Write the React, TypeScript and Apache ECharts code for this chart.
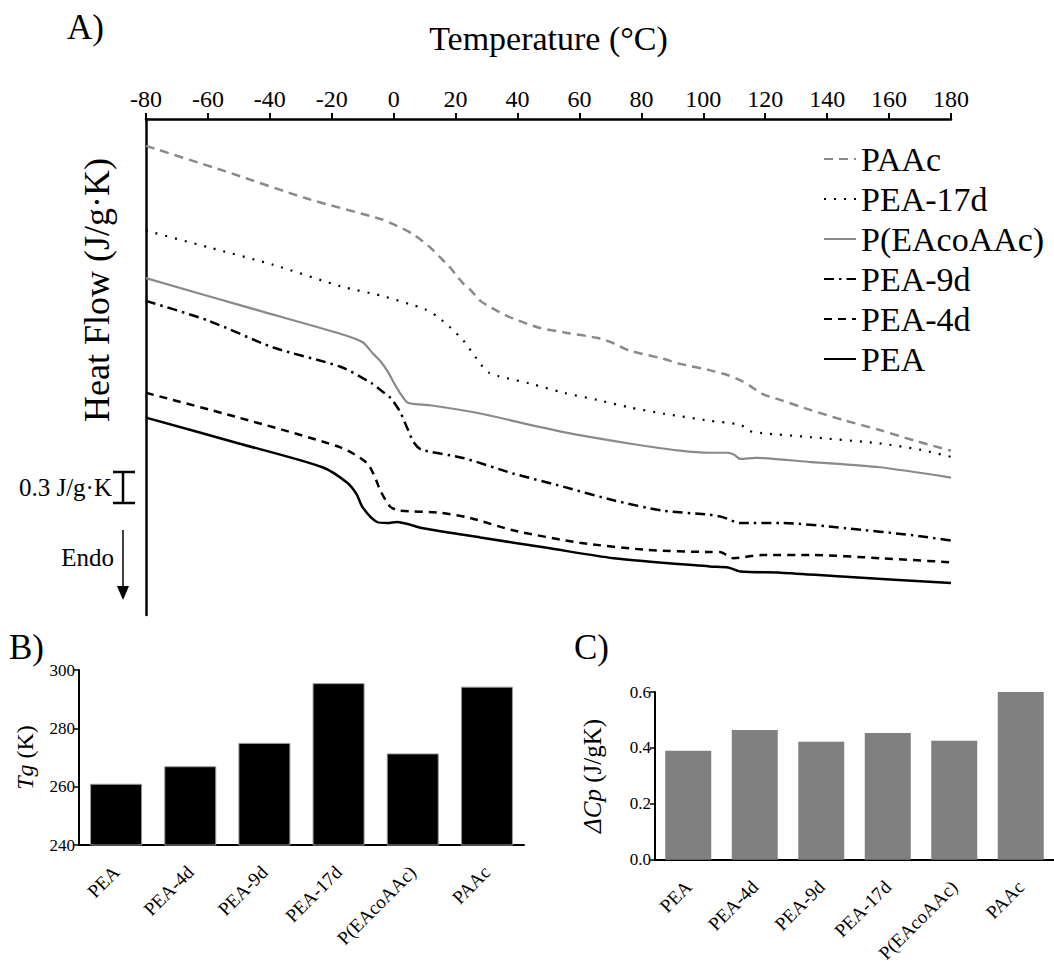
import React, { useEffect, useRef } from "react";
import * as echarts from "echarts";

const FONT = "Liberation Serif";

// Panel A – DSC curves: [temperature °C, heat flow offset J/g·K]
const curvePAAc = [
  [-80, 4.54], [-55, 4.30], [-28, 4.03], [-4, 3.83], [0, 3.78], [6, 3.69], [11.7, 3.56], [15, 3.46],
  [18, 3.37], [22.4, 3.21], [25, 3.14], [28, 3.04], [33, 2.95], [38.5, 2.87], [47, 2.78], [56, 2.73],
  [66, 2.68], [71, 2.63], [76, 2.56], [87, 2.48], [92.5, 2.43], [102, 2.37], [108, 2.32], [112, 2.27],
  [115, 2.22], [119, 2.14], [125, 2.08], [135, 1.98], [146, 1.88], [157, 1.79], [168, 1.69], [180, 1.59],
];
const curvePEA17d = [
  [-80, 3.72], [-60, 3.56], [-39, 3.39], [-17, 3.18], [-4, 3.09], [5, 3.01], [10, 2.96], [14, 2.89],
  [18, 2.79], [22.4, 2.66], [25.6, 2.53], [28.8, 2.40], [31, 2.34], [34, 2.31], [44, 2.24], [55, 2.15],
  [66, 2.08], [76, 2.01], [87, 1.95], [102, 1.88], [112, 1.84], [115, 1.78], [119, 1.76], [135, 1.72],
  [157, 1.66], [170, 1.60], [180, 1.53],
];
const curveCopolymer = [
  [-80, 3.26], [-44, 2.95], [-17, 2.72], [-10, 2.64], [-6.7, 2.53], [-4.4, 2.46], [-2, 2.36], [0, 2.25],
  [2, 2.15], [4.3, 2.06], [7, 2.04], [11.7, 2.03], [28, 1.95], [44, 1.84], [60, 1.74], [76, 1.66],
  [92.5, 1.59], [102, 1.57], [108, 1.57], [110, 1.55], [112, 1.51], [117, 1.52], [135, 1.48], [157, 1.43],
  [180, 1.33],
];
const curvePEA9d = [
  [-80, 3.04], [-60, 2.85], [-39, 2.59], [-17, 2.40], [-7, 2.24], [-4.4, 2.18], [-1, 2.10], [2, 1.97],
  [4.5, 1.80], [6.5, 1.67], [9, 1.60], [22.4, 1.52], [38.5, 1.37], [55, 1.24], [71, 1.11], [87, 1.01],
  [102, 0.97], [106, 0.95], [112, 0.89], [125, 0.89], [146, 0.84], [168, 0.77], [180, 0.72],
];
const curvePEA4d = [
  [-80, 2.15], [-50, 1.91], [-17, 1.62], [-8.6, 1.47], [-6, 1.33], [-4.4, 1.21], [-1.2, 1.05], [2, 1.01],
  [15, 0.99], [24.6, 0.94], [38.5, 0.82], [60, 0.70], [82, 0.63], [102, 0.61], [105.4, 0.61], [109.6, 0.55],
  [119, 0.58], [135, 0.58], [157, 0.55], [180, 0.51],
];
const curvePEA = [
  [-80, 1.91], [-50, 1.66], [-23, 1.43], [-15, 1.28], [-12, 1.17], [-10, 1.04], [-5.4, 0.90], [-2, 0.89],
  [1, 0.90], [9.5, 0.84], [28, 0.75], [49.5, 0.65], [71, 0.55], [102, 0.47], [108, 0.46], [112, 0.42],
  [125, 0.41], [146, 0.37], [180, 0.31],
];
const legendOrder = ["PAAc", "PEA-17d", "P(EAcoAAc)", "PEA-9d", "PEA-4d", "PEA"];

// Panels B and C
const samples = ["PEA", "PEA-4d", "PEA-9d", "PEA-17d", "P(EAcoAAc)", "PAAc"];
const tgValues = [261, 267, 275, 295.5, 271.4, 294.3];
const dcpValues = [0.39, 0.464, 0.422, 0.453, 0.426, 0.6];

const GRAY = "#8a8a8a";

const txt = (size: number) => ({ fontFamily: FONT, fontSize: size, color: "#000" });
const gtxt = (text: string, size: number) => ({ text, fontFamily: FONT, fontSize: size, fill: "#000" });
const axisLine = { show: true, onZero: false, lineStyle: { color: "#000", width: 2 } };

function optionA() {
  const lineDefs = [
    { name: "PAAc", data: curvePAAc, color: GRAY, type: [9, 6], width: 2.5 },
    { name: "PEA-17d", data: curvePEA17d, color: "#000", type: [2, 8], width: 2.2 },
    { name: "P(EAcoAAc)", data: curveCopolymer, color: GRAY, type: "solid", width: 2.2 },
    { name: "PEA-9d", data: curvePEA9d, color: "#000", type: [10, 5, 2.5, 5], width: 2.5 },
    { name: "PEA-4d", data: curvePEA4d, color: "#000", type: [8, 6], width: 2.5 },
    { name: "PEA", data: curvePEA, color: "#000", type: "solid", width: 2.5 },
  ];
  return {
    animation: false,
    grid: { left: 146, top: 119, width: 805, height: 496 },
    legend: {
      data: legendOrder,
      orient: "vertical",
      left: 818,
      top: 137,
      itemWidth: 32,
      itemHeight: 14,
      itemGap: 6,
      itemStyle: { opacity: 0 },
      textStyle: txt(34),
    },
    xAxis: {
      type: "value",
      position: "top",
      min: -80,
      max: 180,
      interval: 20,
      axisLine: { show: true, onZero: false, lineStyle: { color: "#000", width: 2.5 } },
      axisTick: { show: true, inside: false, length: 6, lineStyle: { color: "#000", width: 2 } },
      axisLabel: { ...txt(24), margin: 8 },
      splitLine: { show: false },
      name: "Temperature (°C)",
      nameLocation: "middle",
      nameGap: 64,
      nameTextStyle: txt(34),
    },
    yAxis: {
      type: "value",
      min: 0,
      max: 4.8,
      axisLine: { show: true, onZero: false, lineStyle: { color: "#000", width: 2.5 } },
      axisTick: { show: false },
      axisLabel: { show: false },
      splitLine: { show: false },
    },
    series: lineDefs.map((d) => ({
      name: d.name,
      type: "line",
      data: d.data,
      symbol: "none",
      smooth: 0.25,
      color: d.color,
      lineStyle: { color: d.color, width: d.width, type: d.type },
    })),
    graphic: [
      { type: "text", left: 67, top: 10, style: gtxt("A)", 35) },
      {
        type: "text",
        x: 97,
        y: 290,
        rotation: Math.PI / 2,
        style: { ...gtxt("Heat Flow (J/g·K)", 36), align: "center", verticalAlign: "middle" },
      },
      { type: "line", shape: { x1: 123, y1: 472, x2: 123, y2: 503 }, style: { stroke: "#000", lineWidth: 2.5 } },
      { type: "line", shape: { x1: 113, y1: 472, x2: 135, y2: 472 }, style: { stroke: "#000", lineWidth: 2.5 } },
      { type: "line", shape: { x1: 113, y1: 503, x2: 135, y2: 503 }, style: { stroke: "#000", lineWidth: 2.5 } },
      { type: "text", x: 112, y: 487, style: { ...gtxt("0.3 J/g·K", 25), align: "right", verticalAlign: "middle" } },
      { type: "line", shape: { x1: 123, y1: 530, x2: 123, y2: 588 }, style: { stroke: "#000", lineWidth: 1.5 } },
      { type: "polygon", shape: { points: [[117, 586], [129, 586], [123, 600]] }, style: { fill: "#000" } },
      { type: "text", x: 114, y: 557, style: { ...gtxt("Endo", 25), align: "right", verticalAlign: "middle" } },
    ],
  };
}

function optionBar(
  label: string,
  labelLeft: number,
  grid: any,
  values: number[],
  min: number,
  max: number,
  interval: number,
  name: string,
  nameGap: number,
  nameSize: number,
  barWidth: number,
  itemStyle: any,
  decimals: number
) {
  return {
    animation: false,
    grid,
    xAxis: {
      type: "category",
      data: samples,
      axisLine,
      axisTick: { show: false },
      axisLabel: { ...txt(19), rotate: 45, interval: 0, margin: 24 },
    },
    yAxis: {
      type: "value",
      min,
      max,
      interval,
      axisLine,
      axisTick: { show: true, length: 5, lineStyle: { color: "#000", width: 1.5 } },
      axisLabel: { ...txt(17), margin: 4, formatter: (v: number) => v.toFixed(decimals) },
      splitLine: { show: false },
      name,
      nameLocation: "middle",
      nameGap,
      nameTextStyle: { ...txt(nameSize), rich: { i: { ...txt(nameSize), fontStyle: "italic" } } },
    },
    series: [{ type: "bar", data: values, barWidth, itemStyle }],
    graphic: [{ type: "text", left: labelLeft, top: 10, style: gtxt(label, 35) }],
  };
}

export default function App() {
  const refA = useRef<HTMLDivElement>(null);
  const refB = useRef<HTMLDivElement>(null);
  const refC = useRef<HTMLDivElement>(null);
  useEffect(() => {
    const a = echarts.init(refA.current!, undefined, { renderer: "svg" });
    a.setOption(optionA());
    const b = echarts.init(refB.current!, undefined, { renderer: "svg" });
    b.setOption(
      optionBar("B)", 9, { left: 79, top: 50, width: 445, height: 175 }, tgValues, 240, 300, 20,
        "{i|Tg} (K)", 42, 24, 52, { color: "#000", borderColor: "#9a9a9a", borderWidth: 1 }, 0)
    );
    const c = echarts.init(refC.current!, undefined, { renderer: "svg" });
    c.setOption(
      optionBar("C)", 34, { left: 115, top: 72, width: 412, height: 173 }, dcpValues, 0, 0.6, 0.2,
        "{i|ΔCp} (J/gK)", 50, 25, 46, { color: "#808080" }, 1)
    );
    return () => {
      a.dispose();
      b.dispose();
      c.dispose();
    };
  }, []);
  return (
    <div style={{ position: "absolute", left: 0, top: 0, width: 1054, height: 965, overflow: "hidden" }}>
      <div ref={refA} style={{ position: "absolute", left: 0, top: 0, width: 1054, height: 620 }} />
      <div ref={refB} style={{ position: "absolute", left: 0, top: 620, width: 540, height: 345 }} />
      <div ref={refC} style={{ position: "absolute", left: 540, top: 620, width: 514, height: 345 }} />
    </div>
  );
}
